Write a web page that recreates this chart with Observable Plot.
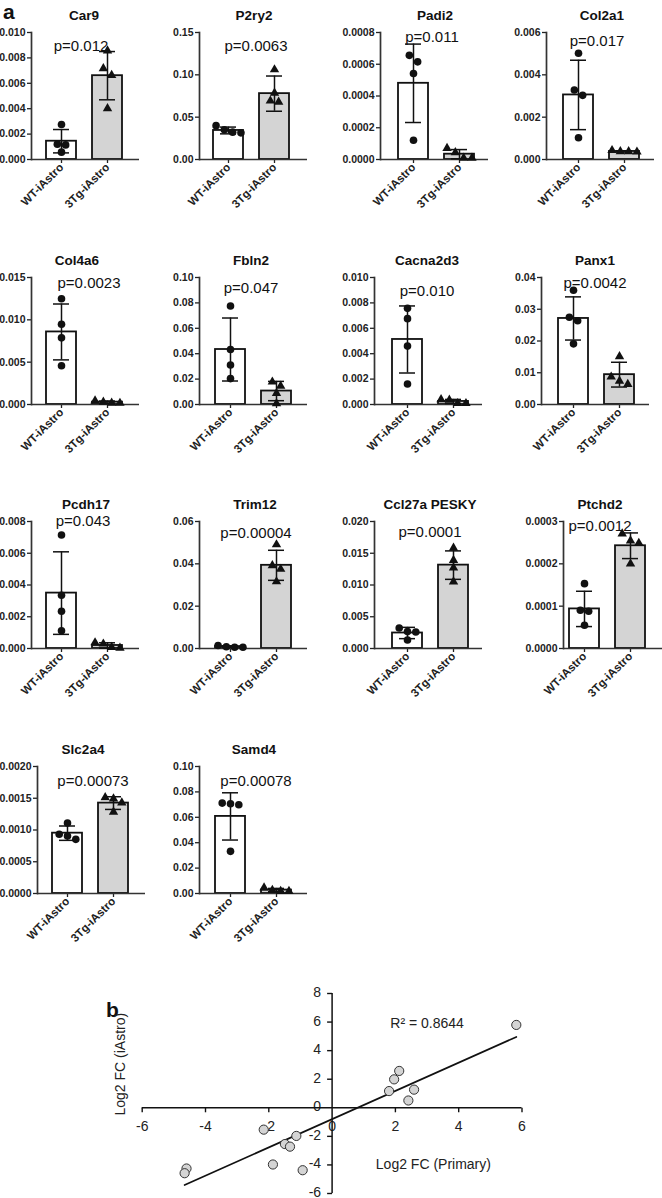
<!DOCTYPE html>
<html><head><meta charset="utf-8">
<script src="https://cdn.jsdelivr.net/npm/d3@7"></script>
<script src="https://cdn.jsdelivr.net/npm/@observablehq/plot@0.6"></script>
<style>
body{margin:0;background:#fff;}
#root{position:relative;width:662px;height:1198px;overflow:hidden;font-family:"Liberation Sans",Arial,sans-serif;background:#fff;}
#root svg{position:absolute;}
.lab{position:absolute;font-weight:bold;font-size:21px;line-height:1;color:#111;}
</style></head><body>
<div id="root"><div class="lab" style="left:3px;top:1px">a</div><div class="lab" style="left:106px;top:999px">b</div></div>
<script>
// ---------- Panel a data ----------
const groups = ["WT-iAstro", "3Tg-iAstro"];
const genes = ["Car9","P2ry2","Padi2","Col2a1","Col4a6","Fbln2","Cacna2d3","Panx1","Pcdh17","Trim12","Ccl27a PESKY","Ptchd2","Slc2a4","Samd4"];
const pLabels = ["p=0.012","p=0.0063","p=0.011","p=0.017","p=0.0023","p=0.047","p=0.010","p=0.0042","p=0.043","p=0.00004","p=0.0001","p=0.0012","p=0.00073","p=0.00078"];
const yMax = [0.010,0.15,0.0008,0.006,0.015,0.10,0.010,0.04,0.008,0.06,0.020,0.0003,0.0020,0.10];
const yTicks = [
  [0,0.002,0.004,0.006,0.008,0.010],
  [0,0.05,0.10,0.15],
  [0,0.0002,0.0004,0.0006,0.0008],
  [0,0.002,0.004,0.006],
  [0,0.005,0.010,0.015],
  [0,0.02,0.04,0.06,0.08,0.10],
  [0,0.002,0.004,0.006,0.008,0.010],
  [0,0.01,0.02,0.03,0.04],
  [0,0.002,0.004,0.006,0.008],
  [0,0.02,0.04,0.06],
  [0,0.005,0.010,0.015,0.020],
  [0,0.0001,0.0002,0.0003],
  [0,0.0005,0.0010,0.0015,0.0020],
  [0,0.02,0.04,0.06,0.08,0.10]
];
const tickDecimals = [3,2,4,3,3,2,3,2,3,2,3,4,4,2];
const wtMean = [0.00144,0.0343,0.00048,0.00305,0.00857,0.0433,0.00512,0.0271,0.00349,0.0009,0.00244,0.0000935,0.00095,0.0607];
const wtSD   = [0.00092,0.0040,0.000247,0.00164,0.0033,0.0248,0.00264,0.0068,0.0026,0.0004,0.00089,0.0000417,0.000113,0.0186];
const tgMean = [0.0066,0.0778,0.0000335,0.00038,0.00028,0.0106,0.00024,0.0094,0.00019,0.0393,0.01313,0.0002427,0.001424,0.0027];
const tgSD   = [0.0019,0.0208,0.000029,0.00003,0.00013,0.0076,0.00016,0.0039,0.00017,0.0071,0.00224,0.0000303,0.0001,0.0013];
const wtPoints = [
  [0.00276,0.00121,0.00115,0.00058],
  [0.0350,0.0315,0.0323,0.0400],
  [0.000615,0.000656,0.000542,0.000121],
  [0.00502,0.00328,0.00303,0.00103],
  [0.01249,0.00947,0.00787,0.00458],
  [0.0776,0.0433,0.0311,0.0204],
  [0.00757,0.00676,0.0046,0.00162],
  [0.0360,0.0275,0.0264,0.0191],
  [0.00715,0.00335,0.00235,0.00112],
  [0.0008,0.0006,0.0006,0.0014],
  [0.00266,0.00323,0.0026,0.00135],
  [0.0001532,0.0000903,0.000088,0.000055],
  [0.000932,0.00111,0.000906,0.000853],
  [0.0707,0.0699,0.0712,0.0332]
];
const tgPoints = [
  [0.00856,0.00717,0.00664,0.00402],
  [0.1062,0.0786,0.0693,0.0680],
  [0.0000437,0.0000708,0.00001,0.00001],
  [0.00038,0.00038,0.00036,0.00043],
  [0.0003,0.00016,0.00018,0.00045],
  [0.0178,0.0146,0.0089,0.0008],
  [0.0004,0.00009,0.00009,0.00036],
  [0.0151,0.0087,0.0064,0.0074],
  [0.00029,0.00003,0.00008,0.00037],
  [0.0491,0.0392,0.0375,0.0316],
  [0.01583,0.01391,0.01271,0.01052],
  [0.0002545,0.000249,0.000271,0.0002003],
  [0.001492,0.001429,0.001513,0.001283],
  [0.0026,0.0018,0.0018,0.0045]
];

// ---------- Panel b data ----------
const log2Primary = [5.82,2.12,1.96,1.80,2.59,2.41,-2.16,-1.13,-1.49,-1.33,-1.87,-0.93,-4.60,-4.66];
const log2IAstro  = [5.80,2.58,1.99,1.17,1.27,0.51,-1.53,-1.97,-2.54,-2.72,-3.97,-4.37,-4.25,-4.58];
const bXTicks = [-6,-4,-2,0,2,4,6];
const bYTicks = [-6,-4,-2,0,2,4,6,8];
const rSquaredLabel = "R\u00B2 = 0.8644";

// ---------- layout (pixels) ----------
const axisX  = [31,199,380,546, 31,199,374,541, 31,199,374,563, 37,199];
const barOff = [15,14,18,17, 15,16,17.5,16.5, 15,16,17.5,6, 15,16];
const rowTop = [32,277,521,766];
const titleDx = [-1.5,0.5,0.5,1.5,-8.5,-2.5,-1.5,-0.5,0.5,1.5,1.5,-17.5,-8.5,0.5];
const pDx = [-4.5,2.5,-2.5,-3.5,3.5,-2.5,-1.5,-0.5,-2.5,2.5,1.5,-17.5,1.5,2.5];
const pDy = [8,8,-1,3,0,5,8,0,-6,6,5,-1,9,9];

const FRAME_W = 108, FRAME_H = 127, ML = 45, MT = 42, MB = 72, MR = 12;
const INK = "#111", AXIS = "#333";
const FONT = "'Liberation Sans', Arial, sans-serif";
const root = document.getElementById("root");

// simple column-scatter spreading (GraphPad-like): neighbours closer than one symbol are laid side by side
function spread(vals, max) {
  const py = vals.map(v => v / max * FRAME_H);
  const order = d3.range(vals.length).sort((a, b) => py[b] - py[a]);
  const dx = vals.map(() => 0);
  const clusters = [];
  let cur = [order[0]];
  for (let k = 1; k < order.length; k++) {
    if (py[cur[cur.length - 1]] - py[order[k]] < 7) cur.push(order[k]);
    else { clusters.push(cur); cur = [order[k]]; }
  }
  clusters.push(cur);
  for (const c of clusters) c.forEach((j, k) => dx[j] = (k - (c.length - 1) / 2) * 8.3);
  return dx;
}

genes.forEach((gene, i) => {
  const row = Math.floor(i / 4);
  const bars = [
    {g: groups[0], m: wtMean[i], s: wtSD[i]},
    {g: groups[1], m: tgMean[i], s: tgSD[i]}
  ];
  const wtDx = spread(wtPoints[i], yMax[i]);
  const tgDx = spread(tgPoints[i], yMax[i]);
  const dec = tickDecimals[i];
  const marks = [
    Plot.axisY({ticks: yTicks[i], tickFormat: d => d.toFixed(dec), tickSize: 4, tickPadding: 2,
      fontSize: 10.5, fontWeight: "bold", color: "#222", label: null, strokeWidth: 1.3}),
    Plot.axisX({tickRotate: -45, tickSize: 4, tickPadding: 2, fontSize: 11.5, fontWeight: "bold",
      color: "#222", label: null, strokeWidth: 1.3}),
    Plot.barY(bars.slice(0, 1), {x: "g", y: "m", fill: "white", stroke: INK, strokeWidth: 1.8}),
    Plot.barY(bars.slice(1), {x: "g", y: "m", fill: "#d4d4d4", stroke: INK, strokeWidth: 1.8}),
    Plot.ruleY([0], {stroke: AXIS, strokeWidth: 1.7}),
    Plot.frame({anchor: "left", stroke: AXIS, strokeWidth: 1.7}),
    Plot.ruleX(bars, {x: "g", y1: d => d.m - d.s, y2: d => d.m + d.s, stroke: INK, strokeWidth: 1.5}),
    Plot.tickY(bars, {x: "g", y: d => d.m + d.s, insetLeft: 7, insetRight: 7, stroke: INK, strokeWidth: 1.5}),
    Plot.tickY(bars, {x: "g", y: d => d.m - d.s, insetLeft: 7, insetRight: 7, stroke: INK, strokeWidth: 1.5}),
    ...wtPoints[i].map((v, k) => Plot.dot([v], {x: () => groups[0], y: d => d, dx: wtDx[k], r: 3.8, fill: INK, stroke: "none"})),
    ...tgPoints[i].map((v, k) => Plot.dot([v], {x: () => groups[1], y: d => d, dx: tgDx[k], r: 3.5, symbol: "triangle", fill: INK, stroke: "none"})),
    Plot.text([gene], {text: d => d, frameAnchor: "top", dy: -22, dx: titleDx[i], fontSize: 13.5, fontWeight: "bold", fill: "#111"}),
    Plot.text([pLabels[i]], {text: d => d, frameAnchor: "top", dy: pDy[i], dx: pDx[i], fontSize: 15, fill: "#111"})
  ];
  const svg = Plot.plot({
    width: ML + FRAME_W + MR, height: MT + FRAME_H + MB,
    marginLeft: ML, marginRight: MR, marginTop: MT, marginBottom: MB,
    style: {background: "transparent", overflow: "visible", fontFamily: FONT},
    x: {domain: groups, range: [ML + barOff[i], ML + barOff[i] + 76], paddingInner: 0.348, paddingOuter: 0},
    y: {domain: [0, yMax[i]]},
    marks
  });
  svg.style.left = (axisX[i] - ML) + "px";
  svg.style.top = (rowTop[row] - MT) + "px";
  root.appendChild(svg);
});

// ---------- Panel b ----------
const tickDown = {draw(ctx, size) { const l = Math.sqrt(size / Math.PI); ctx.moveTo(0, 0); ctx.lineTo(0, l); }};
const tickLeft = {draw(ctx, size) { const l = Math.sqrt(size / Math.PI); ctx.moveTo(0, 0); ctx.lineTo(-l, 0); }};
const bPoints = log2Primary.map((x, i) => ({x, y: log2IAstro[i]}));
const bTop = 960;
const svgB = Plot.plot({
  width: 662, height: 1198 - bTop,
  marginLeft: 141.7, marginRight: 140.5, marginTop: 993 - bTop, marginBottom: 5,
  style: {background: "transparent", overflow: "visible", fontFamily: FONT},
  x: {domain: [-6, 6], axis: null},
  y: {domain: [-6, 8], axis: null},
  marks: [
    Plot.text(bXTicks, {x: d => d, y: 0, text: d => String(d), dy: 19, fontSize: 14, fill: "#222"}),
    Plot.text(bYTicks, {x: 0, y: d => d, text: d => String(d), dx: -11, dy: -1, textAnchor: "end", fontSize: 14, fill: "#222"}),
    Plot.ruleY([0], {stroke: INK, strokeWidth: 1.5}),
    Plot.ruleX([0], {stroke: INK, strokeWidth: 1.5}),
    Plot.dot(bXTicks.filter(d => d !== 0), {x: d => d, y: 0, symbol: tickDown, r: 4.5, fill: "none", stroke: INK, strokeWidth: 1.4}),
    Plot.dot(bYTicks.filter(d => d !== 0), {x: 0, y: d => d, symbol: tickLeft, r: 5, fill: "none", stroke: INK, strokeWidth: 1.4}),
    Plot.linearRegressionY(bPoints, {x: "x", y: "y", stroke: INK, strokeWidth: 1.7, ci: 0}),
    Plot.dot(bPoints, {x: "x", y: "y", r: 4.6, fill: "#d4d4d4", stroke: "#333", strokeWidth: 1}),
    Plot.text([rSquaredLabel], {text: d => d, x: 3.0, y: 5.9, fontSize: 14, fill: "#222"}),
    Plot.text(["Log2 FC (Primary)"], {text: d => d, x: 3.2, y: -4.0, fontSize: 14, fill: "#222"}),
    Plot.text(["Log2 FC (iAstro)"], {text: d => d, frameAnchor: "left", dx: -22, dy: 22, rotate: -90, fontSize: 14, fill: "#222"})
  ]
});
svgB.style.left = "0px";
svgB.style.top = bTop + "px";
root.appendChild(svgB);
</script></body></html>
